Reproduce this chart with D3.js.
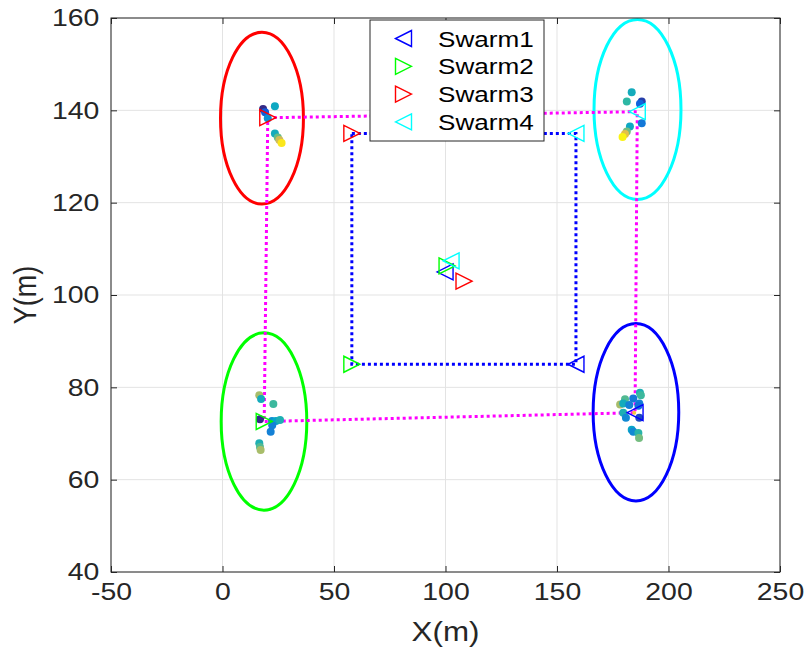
<!DOCTYPE html>
<html>
<head>
<meta charset="utf-8">
<script src="https://cdn.jsdelivr.net/npm/d3@7"></script>
<style>
  body { margin: 0; background: #fff; }
  svg { font-family: "Liberation Sans", Arial, Helvetica, sans-serif; }
</style>
</head>
<body>
<script>
// swarms (legend order)
var swarmNames = ["Swarm1", "Swarm2", "Swarm3", "Swarm4"];
var swarmColors = ["#0000ff", "#00ff00", "#ff0000", "#00ffff"];
var swarmDir = ["left", "right", "right", "left"];

// start positions on the blue square
var startX = [158.5, 58, 58, 158.5];
var startY = [85, 85, 135, 135];
// positions near the centre
var midX = [99.8, 100.7, 108.3, 102.5];
var midY = [105.0, 106.3, 103.0, 107.4];
// final positions (joined by the magenta line)
var endX = [185.0, 18.7, 20.3, 186.0];
var endY = [74.5, 72.6, 138.4, 139.7];

// circles around final positions
var circX = [185.4, 18.6, 17.7, 186.1];
var circY = [74.6, 72.6, 138.3, 140.2];
var circR = [19.2, 19.2, 18.6, 19.5];

// blue square path
var squareX = [58, 158.5, 158.5, 58, 58];
var squareY = [135, 135, 85, 85, 135];

// magenta link order: Swarm3 -> Swarm4 -> Swarm1 -> Swarm2 -> Swarm3
var linkOrder = [2, 3, 0, 1, 2];

// agent dots (value = colormap position)
var dotX = [18.2, 19.1, 23.5, 20.3, 23.5, 24.8, 25.5, 26.5,
            183.5, 181.3, 188.0, 187.2, 188.0, 182.7, 181.3, 180.5, 179.4,
            16.5, 17.3, 22.8, 16.8, 22.2, 24.0, 25.8, 22.3, 21.6, 16.5, 16.8, 17.1,
            187.2, 187.6, 184.2, 180.5, 178.3, 179.7, 182.4, 186.9, 186.5, 179.7, 180.9, 186.9, 183.5, 184.2, 186.5, 186.8];
var dotY = [140.3, 139.6, 140.9, 138.3, 135.0, 134.1, 133.6, 132.9,
            143.9, 141.9, 141.9, 141.4, 137.2, 136.5, 135.4, 134.9, 134.2,
            78.3, 77.5, 76.4, 73.1, 72.7, 72.7, 72.9, 71.8, 70.4, 67.9, 67.1, 66.4,
            78.8, 78.3, 77.6, 77.4, 76.3, 76.5, 76.2, 76.5, 76.0, 74.5, 73.4, 73.4, 70.8, 70.4, 70.1, 69.0];
var dotV = [0.0, 0.12, 0.4, 0.3, 0.42, 0.58, 0.75, 0.95,
            0.42, 0.5, 0.05, 0.15, 0.22, 0.4, 0.6, 0.8, 0.98,
            0.68, 0.42, 0.52, 0.0, 0.3, 0.38, 0.45, 0.25, 0.25, 0.45, 0.55, 0.68,
            0.45, 0.52, 0.22, 0.55, 0.68, 0.42, 0.25, 0.25, 0.2, 0.45, 0.28, 0.08, 0.38, 0.28, 0.48, 0.6];
var smallDotX = [184.6];
var smallDotY = [74.5];
var smallDotV = [0.85];

var xTicks = [-50, 0, 50, 100, 150, 200, 250];
var yTicks = [40, 60, 80, 100, 120, 140, 160];

var W = 807, H = 650;
var pLeft = 111, pRight = 780, pTop = 18, pBottom = 572;
var stretch = 1.16;
var axisColor = "#262626";

var x = d3.scaleLinear().domain([-50, 250]).range([pLeft, pRight]);
var y = d3.scaleLinear().domain([40, 160]).range([pBottom, pTop]);

var parula = d3.scaleLinear()
    .domain([0, 0.125, 0.25, 0.375, 0.5, 0.625, 0.75, 0.875, 1])
    .range(["#352a87", "#0f5cdd", "#1481d6", "#06a4ca", "#2eb7a4", "#87bf77", "#d1bb59", "#fec832", "#f9fb0e"]);

var svg = d3.select("body").append("svg")
    .attr("width", W)
    .attr("height", H);

// grid
svg.append("g").selectAll("line").data(xTicks).join("line")
    .attr("x1", d => x(d)).attr("x2", d => x(d))
    .attr("y1", pTop).attr("y2", pBottom)
    .attr("stroke", "#e3e3e3").attr("stroke-width", 1);
svg.append("g").selectAll("line").data(yTicks).join("line")
    .attr("x1", pLeft).attr("x2", pRight)
    .attr("y1", d => y(d)).attr("y2", d => y(d))
    .attr("stroke", "#e3e3e3").attr("stroke-width", 1);

// circles
svg.append("g").selectAll("ellipse").data(d3.range(4)).join("ellipse")
    .attr("cx", i => x(circX[i]))
    .attr("cy", i => y(circY[i]))
    .attr("rx", i => x(circX[i] + circR[i]) - x(circX[i]))
    .attr("ry", i => y(circY[i]) - y(circY[i] + circR[i]))
    .attr("fill", "none")
    .attr("stroke", i => swarmColors[i])
    .attr("stroke-width", 3);

// blue square
var line = d3.line().x(d => x(d[0])).y(d => y(d[1]));
svg.append("path")
    .datum(squareX.map((v, i) => [v, squareY[i]]))
    .attr("d", line)
    .attr("fill", "none")
    .attr("stroke", "#0000ff")
    .attr("stroke-width", 3)
    .attr("stroke-dasharray", "3,3");

// magenta links
svg.append("path")
    .datum(linkOrder.map(i => [endX[i], endY[i]]))
    .attr("d", line)
    .attr("fill", "none")
    .attr("stroke", "#ff00ff")
    .attr("stroke-width", 3)
    .attr("stroke-dasharray", "3,3");

// agent dots
svg.append("g").selectAll("circle").data(dotX).join("circle")
    .attr("cx", (d, i) => x(dotX[i]))
    .attr("cy", (d, i) => y(dotY[i]))
    .attr("r", 4)
    .attr("fill", (d, i) => parula(dotV[i]));
svg.append("g").selectAll("circle").data(smallDotX).join("circle")
    .attr("cx", (d, i) => x(smallDotX[i]))
    .attr("cy", (d, i) => y(smallDotY[i]))
    .attr("r", 2)
    .attr("fill", (d, i) => parula(smallDotV[i]));

// triangle markers
var triRight = {
    draw: function (ctx, size) {
        var s = Math.sqrt(size) / 2;
        ctx.moveTo(s, 0);
        ctx.lineTo(-s, -s);
        ctx.lineTo(-s, s);
        ctx.closePath();
    }
};
var tri = d3.symbol().type(triRight).size(256);

function drawTri(g, px, py, i) {
    g.append("path")
        .attr("d", tri)
        .attr("transform", "translate(" + px + "," + py + ")" + (swarmDir[i] == "left" ? " rotate(180)" : ""))
        .attr("fill", "none")
        .attr("stroke", swarmColors[i])
        .attr("stroke-width", 1.4);
}

var marks = svg.append("g");
[startX, midX, endX].forEach(function (arrX, k) {
    var arrY = [startY, midY, endY][k];
    for (var i = 0; i < 4; i++) drawTri(marks, x(arrX[i]), y(arrY[i]), i);
});

// axes
function styleAxis(g) {
    g.select(".domain").remove();
    g.selectAll(".tick line").attr("stroke", axisColor);
    g.selectAll(".tick text")
        .attr("fill", axisColor)
        .style("font-size", "24.5px");
}
var plain = d => String(d);
svg.append("g")
    .attr("transform", "translate(0," + pBottom + ")")
    .call(d3.axisBottom(x).tickValues(xTicks).tickFormat(plain).tickSizeInner(-6).tickSizeOuter(0).tickPadding(11))
    .call(styleAxis)
    .selectAll(".tick text").attr("transform", "scale(" + stretch + ",1)");
svg.append("g")
    .attr("transform", "translate(" + pLeft + ",0)")
    .call(d3.axisLeft(y).tickValues(yTicks).tickFormat(plain).tickSizeInner(-6).tickSizeOuter(0).tickPadding(10))
    .call(styleAxis)
    .selectAll(".tick text").attr("transform", "scale(" + stretch + ",1)");
svg.append("g")
    .attr("transform", "translate(0," + pTop + ")")
    .call(d3.axisTop(x).tickValues(xTicks).tickSizeInner(-6).tickSizeOuter(0).tickFormat(""))
    .call(styleAxis);
svg.append("g")
    .attr("transform", "translate(" + pRight + ",0)")
    .call(d3.axisRight(y).tickValues(yTicks).tickSizeInner(-6).tickSizeOuter(0).tickFormat(""))
    .call(styleAxis);

// box
svg.append("rect")
    .attr("x", pLeft).attr("y", pTop)
    .attr("width", pRight - pLeft).attr("height", pBottom - pTop)
    .attr("fill", "none")
    .attr("stroke", axisColor)
    .attr("stroke-width", 1);

// axis labels
svg.append("text")
    .attr("transform", "translate(" + ((pLeft + pRight) / 2) + ",641) scale(" + stretch + ",1)")
    .attr("text-anchor", "middle")
    .attr("fill", axisColor)
    .style("font-size", "27px")
    .text("X(m)");
svg.append("text")
    .attr("transform", "translate(36," + ((pTop + pBottom) / 2) + ") scale(" + stretch + ",1) rotate(-90)")
    .attr("text-anchor", "middle")
    .attr("fill", axisColor)
    .style("font-size", "27px")
    .text("Y(m)");

// legend
var legend = svg.append("g");
legend.append("rect")
    .attr("x", 370).attr("y", 20)
    .attr("width", 174).attr("height", 121)
    .attr("fill", "#fff")
    .attr("stroke", axisColor)
    .attr("stroke-width", 1);
swarmNames.forEach(function (name, i) {
    var ry = 38.5 + i * 27.8;
    drawTri(legend, 403.5, ry, i);
    legend.append("text")
        .attr("transform", "translate(438," + ry + ") scale(" + stretch + ",1)")
        .attr("dy", "0.36em")
        .attr("fill", "#000")
        .style("font-size", "22.5px")
        .text(name);
});
</script>
</body>
</html>
